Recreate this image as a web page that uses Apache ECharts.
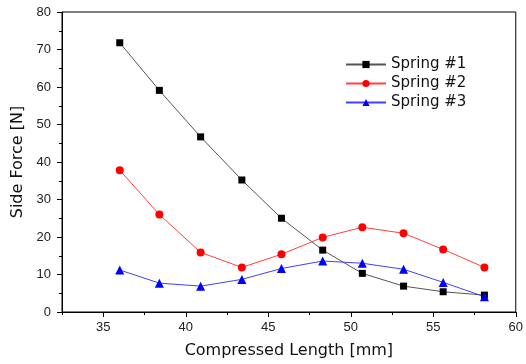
<!DOCTYPE html>
<html>
<head>
<meta charset="utf-8">
<script src="https://cdn.jsdelivr.net/npm/echarts@6/dist/echarts.min.js"></script>
<style>
  html, body { margin: 0; padding: 0; background: #fff; }
  #main { width: 526px; height: 364px; }
</style>
</head>
<body>
<div id="main"></div>
<script>
// compressed length [mm]
var lengths = [36, 38.4, 40.9, 43.4, 45.8, 48.3, 50.7, 53.2, 55.6, 58.1];
var spring1 = [71.8, 59.1, 46.7, 35.2, 25.0, 16.5, 10.3, 6.9, 5.4, 4.5];
var spring2 = [37.8, 26.0, 15.9, 11.9, 15.4, 19.9, 22.6, 21.0, 16.7, 11.9];
var spring3 = [11.2, 7.7, 6.9, 8.7, 11.6, 13.6, 13.0, 11.4, 7.9, 4.1];
var xMajor = [35, 40, 45, 50, 55, 60];

function pairs(ys) {
  return lengths.map(function (x, i) { return [x, ys[i]]; });
}

var myChart = echarts.init(document.getElementById('main'));
var font = 'DejaVu Sans, sans-serif';
var tickFont = 'Liberation Sans, Arial, sans-serif';

var option = {
  animation: false,
  grid: {
    left: 62, right: 8, top: 12, bottom: 51,
    show: true, borderColor: '#000', borderWidth: 1
  },
  legend: {
    orient: 'vertical',
    left: 340, top: 52,
    itemWidth: 40, itemHeight: 9, itemGap: 4,
    textStyle: { fontFamily: font, fontSize: 15, color: '#111' },
    data: ['Spring #1', 'Spring #2', 'Spring #3']
  },
  xAxis: [{
    type: 'value',
    min: 32.5, max: 60, interval: 2.5,
    name: 'Compressed Length [mm]',
    nameLocation: 'middle', nameGap: 31,
    nameTextStyle: { fontFamily: font, fontSize: 16, color: '#111' },
    axisLine: { lineStyle: { color: '#000', width: 1 } },
    axisTick: { inside: false, length: 3, lineStyle: { color: '#000' } },
    axisLabel: {
      margin: 9, fontFamily: tickFont, fontSize: 13, color: '#222',
      formatter: function (v) { return v % 5 === 0 ? String(v) : ''; }
    },
    splitLine: { show: false }
  }, {
    type: 'value',
    position: 'bottom',
    min: 32.5, max: 60,
    axisLine: { show: false },
    axisTick: { show: true, length: 5, customValues: xMajor, lineStyle: { color: '#000' } },
    axisLabel: { show: false },
    splitLine: { show: false }
  }],
  yAxis: {
    type: 'value',
    min: 0, max: 80, interval: 10,
    name: 'Side Force [N]',
    nameLocation: 'middle', nameGap: 33,
    nameTextStyle: { fontFamily: font, fontSize: 16, color: '#111' },
    axisLine: { show: true, lineStyle: { color: '#000', width: 1 } },
    axisTick: { inside: false, length: 5, lineStyle: { color: '#000' } },
    minorTick: { show: true, splitNumber: 2, length: 3, lineStyle: { color: '#000' } },
    axisLabel: { margin: 11, fontFamily: tickFont, fontSize: 13, color: '#222' },
    splitLine: { show: false }
  },
  series: [{
    name: 'Spring #1',
    type: 'line',
    data: pairs(spring1),
    symbol: 'rect', symbolSize: 7,
    itemStyle: { color: '#000' },
    lineStyle: { color: '#555', width: 1 }
  }, {
    name: 'Spring #2',
    type: 'line',
    data: pairs(spring2),
    symbol: 'circle', symbolSize: 8,
    itemStyle: { color: '#ff0000' },
    lineStyle: { color: '#ff4040', width: 1 }
  }, {
    name: 'Spring #3',
    type: 'line',
    data: pairs(spring3),
    symbol: 'triangle', symbolSize: 9,
    itemStyle: { color: '#0000ff' },
    lineStyle: { color: '#4040ff', width: 1 }
  }]
};
myChart.setOption(option);
</script>
</body>
</html>
